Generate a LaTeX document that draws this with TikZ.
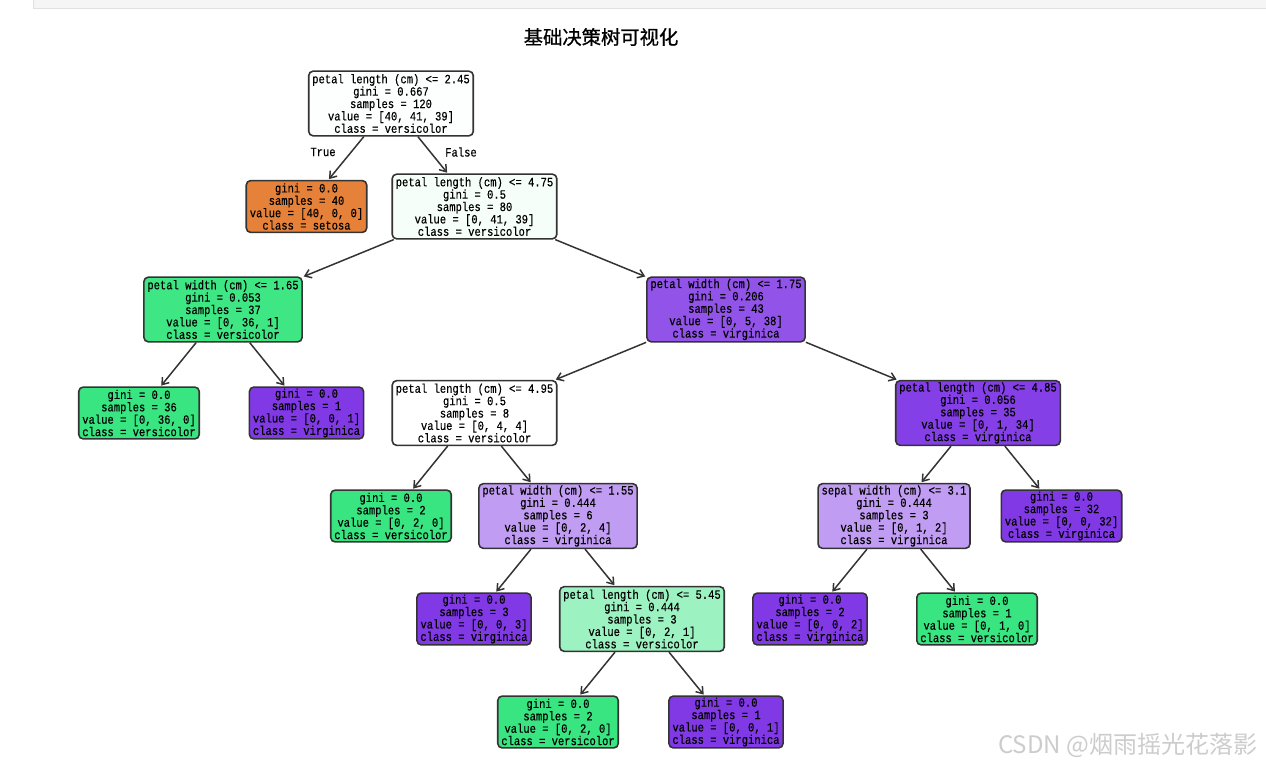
\documentclass[tikz,border=0pt]{standalone}
\usepackage{fontspec}
\usetikzlibrary{arrows.meta}
\newfontfamily\treefont[FakeStretch=0.83,FakeBold=0.35]{Liberation Mono}
\newfontfamily\cjkfont{Noto Sans CJK SC}
\newfontfamily\cjktitle[FakeBold=0.8]{Noto Sans CJK SC}
\definecolor{setosaorange}{RGB}{229,129,57}
\definecolor{versigreen}{RGB}{57,229,129}
\definecolor{virgpurple}{RGB}{129,57,229}
\definecolor{rootwhite}{RGB}{252,255,253}
\definecolor{mintwhite}{RGB}{245,254,249}
\definecolor{greenstrong}{RGB}{62,230,132}
\definecolor{greenhalf}{RGB}{156,242,192}
\definecolor{purplestrong}{RGB}{146,83,232}
\definecolor{purpledeep}{RGB}{133,63,230}
\definecolor{purplehalf}{RGB}{192,156,242}
\definecolor{bandgray}{RGB}{245,245,245}
\definecolor{bandline}{RGB}{224,224,224}
\tikzset{
  split/.style={
    rectangle,
    rounded corners=2.5pt,
    draw=black!80,
    line width=0.9pt,
    align=center,
    inner xsep=2pt,
    inner ysep=0pt,
    minimum height=36.8pt,
    font=\treefont\fontsize{7.2}{7.05}\selectfont
  },
  leaf/.style={
    split,
    minimum height=29.5pt
  },
  edge/.style={
    -{Straight Barb[length=3.5pt,width=5pt]},
    line width=0.85pt,
    black!80,
    shorten >=0.5pt
  },
  branch/.style={
    font=\treefont\fontsize{7.2}{7.05}\selectfont
  }
}

\begin{document}
\begin{tikzpicture}[x=0.02cm,y=-0.02cm]
\useasboundingbox (0,0) rectangle (1266,767);
% notebook band
\filldraw[fill=bandgray,draw=bandline] (33,-2) rectangle (1268,8);
\node[font=\cjktitle\fontsize{11}{13}\selectfont] (title) at (601,37) {基础决策树可视化};

% depth 0 - 1
\node[split,fill=rootwhite] (root) at (391,103.5) {petal length (cm) <= 2.45\\gini = 0.667\\samples = 120\\value = [40, 41, 39]\\class = versicolor};
\node[leaf,fill=setosaorange] (setosa) at (306.5,206.5) {gini = 0.0\\samples = 40\\value = [40, 0, 0]\\class = setosa};
\node[split,fill=mintwhite] (pl475) at (474.5,206.5) {petal length (cm) <= 4.75\\gini = 0.5\\samples = 80\\value = [0, 41, 39]\\class = versicolor};

% depth 2 - 3
\node[split,fill=greenstrong] (pw165) at (223,309.5) {petal width (cm) <= 1.65\\gini = 0.053\\samples = 37\\value = [0, 36, 1]\\class = versicolor};
\node[split,fill=purplestrong] (pw175) at (726,309.5) {petal width (cm) <= 1.75\\gini = 0.206\\samples = 43\\value = [0, 5, 38]\\class = virginica};
\node[leaf,fill=versigreen] (leafA) at (139,413) {gini = 0.0\\samples = 36\\value = [0, 36, 0]\\class = versicolor};
\node[leaf,fill=virgpurple] (leafB) at (306.5,413) {gini = 0.0\\samples = 1\\value = [0, 0, 1]\\class = virginica};
\node[split,fill=white] (pl495) at (474.5,413) {petal length (cm) <= 4.95\\gini = 0.5\\samples = 8\\value = [0, 4, 4]\\class = versicolor};
\node[split,fill=purpledeep] (pl485) at (978,413) {petal length (cm) <= 4.85\\gini = 0.056\\samples = 35\\value = [0, 1, 34]\\class = virginica};

% depth 4
\node[leaf,fill=versigreen] (leafC) at (391,516) {gini = 0.0\\samples = 2\\value = [0, 2, 0]\\class = versicolor};
\node[split,fill=purplehalf] (pw155) at (558,516) {petal width (cm) <= 1.55\\gini = 0.444\\samples = 6\\value = [0, 2, 4]\\class = virginica};
\node[split,fill=purplehalf] (sw31) at (894,516) {sepal width (cm) <= 3.1\\gini = 0.444\\samples = 3\\value = [0, 1, 2]\\class = virginica};
\node[leaf,fill=virgpurple] (leafD) at (1061.5,516) {gini = 0.0\\samples = 32\\value = [0, 0, 32]\\class = virginica};

% depth 5
\node[leaf,fill=virgpurple] (leafE) at (474,619) {gini = 0.0\\samples = 3\\value = [0, 0, 3]\\class = virginica};
\node[split,fill=greenhalf] (pl545) at (642,619) {petal length (cm) <= 5.45\\gini = 0.444\\samples = 3\\value = [0, 2, 1]\\class = versicolor};
\node[leaf,fill=virgpurple] (leafF) at (810,619) {gini = 0.0\\samples = 2\\value = [0, 0, 2]\\class = virginica};
\node[leaf,fill=versigreen] (leafG) at (977,619) {gini = 0.0\\samples = 1\\value = [0, 1, 0]\\class = versicolor};

% depth 6
\node[leaf,fill=versigreen] (leafH) at (558,722) {gini = 0.0\\samples = 2\\value = [0, 2, 0]\\class = versicolor};
\node[leaf,fill=virgpurple] (leafI) at (726,722) {gini = 0.0\\samples = 1\\value = [0, 0, 1]\\class = virginica};

\node[branch] (lblTrue) at (323,152) {True};
\node[branch] (lblFalse) at (461,152) {False};

\draw[edge] (root) -- (setosa);
\draw[edge] (root) -- (pl475);
\draw[edge] (pl475) -- (pw165);
\draw[edge] (pl475) -- (pw175);
\draw[edge] (pw165) -- (leafA);
\draw[edge] (pw165) -- (leafB);
\draw[edge] (pw175) -- (pl495);
\draw[edge] (pw175) -- (pl485);
\draw[edge] (pl495) -- (leafC);
\draw[edge] (pl495) -- (pw155);
\draw[edge] (pl485) -- (sw31);
\draw[edge] (pl485) -- (leafD);
\draw[edge] (pw155) -- (leafE);
\draw[edge] (pw155) -- (pl545);
\draw[edge] (sw31) -- (leafF);
\draw[edge] (sw31) -- (leafG);
\draw[edge] (pl545) -- (leafH);
\draw[edge] (pl545) -- (leafI);

% watermark
\node[anchor=east,text=black!20,font=\cjkfont\fontsize{13.7}{15}\selectfont] (mark) at (1264,745) {CSDN @烟雨摇光花落影};
\end{tikzpicture}
\end{document}
